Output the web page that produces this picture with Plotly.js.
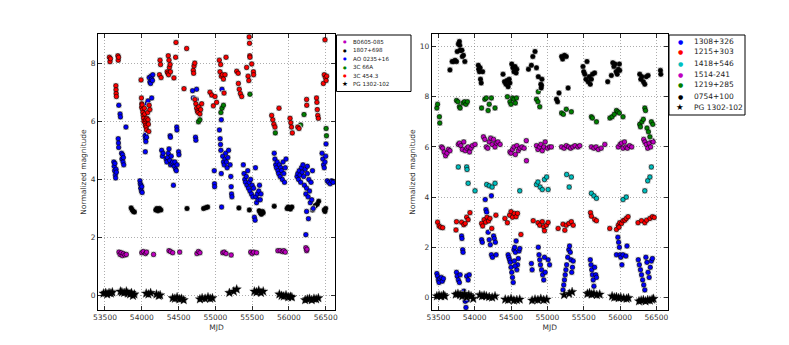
<!DOCTYPE html>
<html>
<head>
<meta charset="utf-8">
<script src="https://cdn.plot.ly/plotly-3.0.1.min.js"></script>
<style>
  html, body { margin: 0; padding: 0; background: #fff; }
  #chart { width: 789px; height: 345px; }
</style>
</head>
<body>
<div id="chart"></div>
<script>
// ---- data: [MJD, normalized magnitude] ----

// left panel
const b0605 = [[53690,1.5],[53705,1.42],[53720,1.48],[53735,1.38],[53750,1.45],[53770,1.4],[53790,1.42],
  [54000,1.48],[54020,1.52],[54050,1.45],[54065,1.5],[54160,1.42],
  [54370,1.55],[54390,1.52],[54420,1.48],[54515,1.5],[54750,1.45],[54770,1.52],[54790,1.48],
  [55100,1.48],[55120,1.5],[55145,1.45],[55215,1.4],[55480,1.5],[55500,1.45],[55520,1.5],[55560,1.48],
  [55850,1.55],[55880,1.55],[55910,1.52],[55930,1.55],[55950,1.5],[56230,1.65],[56240,1.55],[56245,1.6]];

const s1807 = [[53855,3.02],[53870,2.95],[53885,2.9],[53900,2.88],
  [54190,2.95],[54205,3.0],[54220,2.92],[54240,3.0],[54260,2.95],[54615,3.0],
  [54840,3.0],[54870,3.03],[54895,3.05],[55320,3.02],[55462,2.95],
  [55595,2.92],[55610,2.85],[55625,2.8],[55640,2.9],[55650,2.85],[55800,3.08],
  [55975,3.0],[55990,3.05],[56005,3.0],[56020,2.98],[56040,3.05],
  [56320,2.95],[56340,3.05],[56360,3.1],[56385,3.15],[56405,3.25],[56480,2.95],[56490,2.9],[56500,3.0]];

const ao0235 = [[53620,4.6],[53625,4.45],[53630,4.3],[53635,4.55],[53640,4.15],[53645,4.05],[53650,4.35],[53655,4.25],
  [53680,5.4],[53683,5.25],[53686,5.1],[53688,6.55],[53705,6.25],[53710,6.15],
  [53725,4.9],[53730,4.7],[53738,4.85],[53745,4.6],[53750,4.75],[53755,4.5],[53785,5.8],
  [53975,3.95],[53980,3.85],[53985,3.7],[53990,3.8],[53995,3.6],[54000,3.75],[54005,3.55],
  [54045,5.5],[54048,4.95],[54050,5.4],[54055,5.3],[54060,5.6],[54065,5.45],
  [54070,6.6],[54075,6.45],[54085,6.7],[54095,6.5],[54135,6.8],
  [54100,7.5],[54110,7.35],[54120,7.3],[54125,7.55],[54135,7.45],[54145,7.4],[54150,7.6],
  [54270,5.0],[54280,4.8],[54290,4.9],
  [54330,4.7],[54340,4.6],[54350,4.75],[54360,4.9],[54370,5.05],[54380,4.65],[54390,4.5],[54400,4.8],
  [54410,4.55],[54420,4.6],[54430,3.8],[54440,4.45],[54450,4.6],[54460,4.35],[54470,4.3],[54480,4.5],
  [54385,5.5],[54390,5.45],[54475,5.8],[54478,5.7],[54500,4.95],[54505,4.85],
  [54690,7.05],[54700,6.8],[54730,5.45],[54735,5.35],[54740,6.75],[54745,7.1],
  [54985,4.3],[54988,3.85],[54990,3.75],
  [55055,5.7],[55065,5.4],[55070,5.2],[55075,5.0],[55080,4.2],[55081,6.05],[55085,3.05],[55090,7.1],
  [55100,4.8],[55110,4.6],[55120,4.5],[55130,4.7],[55140,4.9],[55150,4.6],[55160,4.4],[55170,4.75],[55180,5.0],
  [55200,4.5],[55210,4.1],[55215,3.75],[55220,3.5],[55225,3.4],
  [55380,4.5],[55390,4.2],[55400,4.0],[55410,3.9],[55420,4.1],[55430,3.8],[55440,4.3],[55450,3.7],
  [55460,3.9],[55470,3.6],[55480,4.0],[55490,3.5],[55500,3.8],[55510,3.4],[55520,3.7],[55530,2.7],
  [55540,2.6],[55550,3.4],[55560,3.2],[55570,3.5],[55580,3.3],[55590,3.6],[55600,3.8],[55610,3.3],[55620,3.5],[55545,4.4],
  [55800,4.9],[55810,4.7],[55820,4.5],[55830,4.4],[55840,4.6],[55850,4.3],[55860,4.2],[55870,4.5],
  [55880,4.1],[55890,4.4],[55900,4.3],[55910,4.0],[55920,4.6],[55930,4.2],[55940,3.9],[55950,4.4],[55960,4.7],
  [56110,4.1],[56120,4.2],[56130,4.0],[56140,4.3],[56150,4.15],[56160,3.9],[56170,4.4],[56180,4.25],
  [56190,4.5],[56200,4.1],[56210,3.8],[56220,4.35],[56230,3.5],[56240,3.7],[56250,4.2],[56260,3.4],
  [56270,4.0],[56280,3.6],[56290,3.2],[56300,3.9],[56310,3.3],[56320,4.3],[56330,3.0],[56230,2.1],
  [56265,2.65],[56240,2.9],[56250,4.45],
  [56450,4.9],[56460,4.7],[56470,4.5],[56480,4.4],[56490,4.6],[56500,4.8],[56504,5.22],
  [56520,3.95],[56540,3.9],[56560,3.85],[56580,3.95],[56600,3.9]];

const s3c66a = [[54770,5.98],[54790,6.05],[55075,6.3],[55090,6.45],[55110,6.55],[55470,6.93],
  [55815,5.6],[56160,5.87],[56205,6.23],[56505,5.75],[56510,5.5]];

const s3c454 = [[53560,8.2],[53568,8.05],[53575,8.15],[53675,8.25],[53680,8.1],[53685,8.2],
  [53648,7.22],[53650,7.08],[53652,6.95],[53655,6.85],[53990,7.42],
  [53995,6.8],[54000,6.6],[53998,6.48],[54005,6.56],[54010,6.4],[54015,6.3],[54020,6.2],[54025,6.1],
  [54030,6.0],[54035,6.45],[54040,6.25],[54045,5.95],[54050,5.85],[54055,6.05],[54060,5.8],[54065,5.7],
  [54070,6.1],[54080,6.3],[54085,6.05],[54090,5.9],[54100,6.55],[54110,6.4],[54095,5.65],
  [54248,8.1],[54255,7.95],[54240,7.6],[54262,7.5],
  [54345,7.7],[54355,7.65],[54360,8.25],[54365,7.6],[54370,8.1],[54375,7.85],[54385,7.95],[54390,7.7],
  [54437,7.49],[54460,8.2],[54465,8.71],[54574,7.12],[54610,8.5],
  [54700,7.75],[54705,7.65],[54710,7.9],[54720,8.0],
  [54722,6.75],[54735,6.6],[54745,6.45],[54755,6.35],[54765,6.3],[54775,6.5],[54790,6.25],[54800,6.4],[54814,6.6],
  [54927,7.0],[54950,6.9],[54973,6.53],[54995,6.85],[55017,6.65],
  [55054,8.1],[55072,7.95],[55063,7.7],[55080,7.55],[55095,7.6],[55110,7.45],[55131,7.6],[55118,6.97],[55145,8.2],
  [55290,7.72],[55310,7.65],[55313,7.3],[55325,7.1],[55340,6.95],[55358,6.85],
  [55425,7.85],[55445,7.55],[55455,7.4],[55460,8.9],[55464,8.68],[55468,8.25],[55470,8.2],[55494,7.97],[55517,7.7],[55520,7.6],
  [55765,6.2],[55780,6.05],[55795,5.9],[55810,5.8],[55865,6.45],
  [56015,6.1],[56025,5.95],[56035,5.8],[56046,5.6],[56120,5.8],[56137,5.75],
  [56240,6.75],[56242,6.55],
  [56375,6.8],[56380,6.65],[56385,6.4],[56392,6.2],[56400,6.1],
  [56490,8.8],[56468,7.3],[56480,7.6],[56495,7.5],[56505,7.4],[56513,7.55]];

const pg1302L = [[53480,0.08],[53510,0.1],[53530,0.05],[53555,0.1],[53580,0.08],[53600,0.12],
  [53710,0.15],[53730,0.12],[53760,0.1],[53790,0.15],[53810,0.08],[53840,0.05],[53860,0.1],[53880,0.0],[53900,0.05],
  [54060,0.08],[54090,0.05],[54120,0.1],[54200,0.05],[54230,0.0],[54250,0.02],
  [54420,-0.08],[54450,-0.1],[54480,-0.05],[54510,-0.12],[54540,-0.1],[54570,-0.15],
  [54790,-0.12],[54820,-0.08],[54860,-0.1],[54900,-0.05],[54930,-0.1],[54960,-0.08],
  [55190,0.1],[55250,0.15],[55290,0.22],
  [55530,0.15],[55560,0.12],[55590,0.18],[55620,0.1],[55650,0.15],
  [55870,0.05],[55900,0.0],[55930,-0.02],[55960,0.02],[55990,-0.05],[56020,-0.03],[56040,-0.05],
  [56220,-0.15],[56250,-0.12],[56280,-0.1],[56310,-0.15],[56340,-0.1],[56370,-0.12],[56400,-0.08]];

// right panel
const s1308 = [[53480,0.95],[53490,0.85],[53500,0.7],[53510,0.6],[53520,0.75],[53540,0.8],[53555,0.65],[53570,0.75],
  [53750,1.0],[53760,0.85],[53775,0.7],[53790,0.6],[53800,0.9],
  [53820,2.45],[53825,2.35],[53835,1.9],[53840,1.8],
  [53850,0.25],[53860,0.0],[53870,-0.15],[53880,-0.4],[53895,-0.1],[53905,0.1],[53890,0.85],[53910,0.7],[53925,0.9],
  [54095,2.3],[54105,2.2],[54145,3.9],[54155,3.5],[54165,3.4],[54230,4.05],
  [54185,2.6],[54200,2.3],[54215,2.1],[54230,1.7],[54245,1.6],[54260,2.45],[54270,2.35],[54285,2.2],[54295,1.7],
  [54460,1.7],[54470,1.6],[54480,1.5],[54490,1.4],[54500,1.2],[54510,1.0],[54520,0.8],[54530,0.6],
  [54540,1.9],[54550,2.0],[54560,1.8],[54570,2.25],[54580,1.1],[54590,1.3],[54600,1.55],[54610,1.85],
  [54620,1.95],[54545,1.45],[54555,1.25],
  [54780,1.35],[54790,1.1],
  [54875,2.0],[54885,1.7],[54895,1.5],[54905,1.3],[54920,1.1],[54935,0.9],[54950,0.7],[54960,1.6],[54970,1.0],
  [55010,1.5],[55030,1.3],
  [55215,0.3],[55225,0.5],[55235,0.7],[55245,0.9],[55255,1.1],[55265,1.3],[55280,1.6],[55295,1.9],
  [55305,2.05],[55315,1.8],[55325,1.5],[55335,1.0],[55345,1.2],[55355,1.45],
  [55590,1.5],[55600,1.3],[55610,1.1],[55620,0.9],[55630,0.7],[55640,0.45],[55650,1.2],[55665,0.9],[55675,0.8],
  [55950,1.7],[55970,2.4],[55980,2.2],[55990,2.0],[56000,1.7],[56010,1.6],[56025,1.3],[56040,1.7],[56095,2.05],[56080,1.65],
  [56250,1.5],[56265,1.3],[56280,1.1],[56295,0.9],[56310,0.7],[56325,0.5],[56340,0.3],[56355,1.6],
  [56370,1.4],[56385,1.0],[56400,0.8],[56415,1.2],[56430,1.45],[56445,1.55]];

const s1215 = [[53490,3.0],[53510,2.85],[53530,2.8],[53560,2.78],
  [53743,2.69],[53750,3.02],[53820,3.0],[53850,2.9],[53870,2.95],[53890,3.2],[53910,3.1],[53935,3.38],
  [54095,2.95],[54110,2.85],[54130,3.1],[54150,3.0],[54170,3.2],[54190,3.05],[54210,3.15],[54235,2.75],[54292,3.28],
  [54416,3.15],[54450,2.98],[54480,3.28],[54500,3.42],[54520,3.2],[54545,3.35],[54570,3.22],[54590,3.35],[54636,2.51],
  [54805,3.06],[54870,2.98],[54895,2.88],[54930,3.02],[54950,2.82],[54960,2.66],[54985,2.88],[55010,2.99],
  [55148,2.75],[55215,2.92],[55240,2.68],[55260,2.88],[55295,2.95],[55330,3.02],[55355,2.88],
  [55593,3.38],[55605,3.24],[55650,3.11],[55675,3.06],
  [55858,2.75],[55950,2.71],[55975,2.88],[55995,2.98],[56020,2.95],[56040,3.06],[56065,3.08],[56085,3.15],[56110,3.22],[55985,2.8],
  [56247,2.98],[56295,3.06],[56340,2.98],[56365,3.08],[56410,3.15],[56445,3.22],[56470,3.19]];

const s1418 = [[53775,5.2],[53890,5.2],[53895,5.1],[53910,4.55],[54005,4.25],
  [54165,4.5],[54200,4.45],[54240,4.4],[54280,4.55],[54620,4.25],
  [54850,4.5],[54870,4.6],[54900,4.4],[54930,4.3],[54960,4.7],[54990,4.8],[55010,4.3],
  [55265,4.9],[55300,4.4],[55330,4.8],[55605,4.15],[55640,4.05],[55675,3.95],
  [56040,3.9],[56085,4.0],[56340,4.25],[56380,4.65],[56410,4.8],[56430,5.2]];

const s1514 = [[53545,6.0],[53560,5.95],[53580,5.8],[53600,5.65],[53620,5.75],[53640,5.9],[53660,5.85],
  [53775,6.1],[53790,6.15],[53810,6.05],[53830,5.9],[53850,6.2],[53870,5.85],[53890,5.95],[53910,6.0],
  [53930,5.8],[53950,5.95],[53970,6.05],[54005,6.1],
  [54120,6.4],[54140,6.3],[54160,6.0],[54180,5.95],[54200,6.2],[54220,6.35],[54240,6.1],[54260,6.3],
  [54280,6.0],[54300,6.15],[54320,6.2],[54350,6.1],
  [54485,5.8],[54500,5.75],[54520,5.9],[54540,6.0],[54560,5.7],[54580,6.05],[54600,5.85],[54620,5.95],
  [54650,6.0],[54680,5.95],[54710,6.25],[54712,5.45],
  [54850,6.05],[54870,5.9],[54890,6.0],[54910,6.1],[54930,5.85],[54950,6.0],[54970,6.2],[55000,5.95],[55030,6.0],[55055,6.0],
  [55195,6.0],[55230,5.95],[55260,6.05],[55290,6.0],[55320,5.95],[55350,6.0],[55380,6.05],[55420,6.0],[55445,6.05],
  [55605,6.0],[55640,5.95],[55670,6.0],[55700,5.9],[55740,5.95],[55790,6.1],
  [55975,6.0],[56000,6.1],[56020,6.15],[56040,5.95],[56060,6.2],[56080,6.0],[56100,5.95],[56130,6.05],[56160,6.0],
  [56325,6.3],[56340,6.2],[56360,6.1],[56380,5.95],[56400,6.15],[56420,6.0],[56440,6.25],[56455,6.2]];

const s1219 = [[53480,7.55],[53490,7.7],[53515,7.2],[53520,6.95],
  [53750,7.85],[53770,7.8],[53790,7.6],[53800,7.55],[53840,7.75],[53860,7.8],[53880,7.7],[53900,7.8],
  [54095,7.55],[54140,7.9],[54160,7.95],[54185,7.45],[54200,7.7],[54230,7.95],[54280,7.55],
  [54450,8.0],[54485,7.8],[54500,7.7],[54520,7.95],[54540,7.9],[54560,7.75],[54575,7.95],
  [54850,7.9],[54870,7.8],[54875,8.2],[54895,7.6],
  [55195,7.35],[55220,7.3],[55260,7.5],[55330,7.4],
  [55605,7.2],[55620,7.15],[55675,7.0],
  [55860,7.15],[55890,7.2],[55920,7.3],[55950,7.45],[55970,7.4],[55990,7.35],[56040,7.2],
  [56270,6.9],[56280,6.8],[56300,7.0],[56320,7.1],[56340,7.55],[56350,7.45],[56370,6.75],
  [56390,6.6],[56410,6.4],[56430,7.0],[56450,6.9]];

const s0754 = [[53660,9.07],[53690,9.4],[53710,9.4],[53730,9.45],[53750,9.4],
  [53760,9.8],[53775,10.1],[53790,10.2],[53795,10.05],[53800,9.85],[53810,9.85],[53825,9.85],[53830,9.6],[53845,9.65],[53865,9.4],
  [54050,9.25],[54055,9.1],[54065,9.0],[54075,9.15],[54080,8.7],[54090,8.55],[54110,9.0],
  [54390,8.9],[54410,8.6],[54430,8.5],[54445,8.65],[54460,8.4],[54475,8.7],[54485,8.55],[54510,9.3],
  [54525,9.15],[54540,9.0],[54555,9.2],[54570,8.95],[54580,9.1],
  [54740,9.1],[54780,9.25],[54800,9.6],[54830,9.8],[54850,9.15],[54875,8.8],[54910,8.5],[54915,8.35],[54920,8.45],[54925,8.7],
  [55125,7.9],[55140,7.8],[55160,8.15],[55195,9.6],[55210,9.5],[55235,9.65],[55260,9.6],[55285,8.35],
  [55490,9.2],[55500,9.0],[55515,8.9],[55530,8.7],[55545,9.4],[55560,8.6],[55575,8.8],[55590,8.5],[55605,8.7],[55620,8.9],[55650,8.95],
  [55830,8.6],[55880,8.85],[55900,9.35],[55915,9.2],[55930,9.3],[55945,9.0],[55960,8.9],[55975,9.1],[55990,9.3],[55995,9.05],
  [56270,8.9],[56285,8.7],[56300,8.8],[56320,8.6],[56340,8.5],[56360,8.8],[56385,8.85],
  [56555,9.05],[56560,8.9]];

const pg1302R = [[53480,0.05],[53510,0.08],[53540,0.05],[53570,0.1],[53590,0.05],
  [53740,0.12],[53770,0.15],[53800,0.1],[53830,0.05],[53860,0.15],[53890,0.0],[53920,0.1],[53950,0.05],[53980,-0.05],
  [54070,0.1],[54100,0.05],[54130,0.08],[54160,0.05],[54200,0.02],[54240,0.0],[54280,0.05],
  [54420,-0.08],[54460,-0.1],[54500,-0.05],[54540,-0.12],[54580,-0.1],[54620,-0.08],
  [54790,-0.12],[54830,-0.08],[54870,-0.1],[54910,-0.05],[54950,-0.1],[54990,-0.08],
  [55230,0.1],[55300,0.15],[55340,0.22],
  [55550,0.15],[55580,0.18],[55610,0.12],[55640,0.15],[55680,0.1],[55720,0.12],
  [55890,0.05],[55920,0.0],[55950,0.02],[55980,-0.02],[56010,0.0],[56050,-0.03],[56090,-0.05],[56115,-0.02],
  [56260,-0.15],[56290,-0.12],[56320,-0.1],[56350,-0.15],[56380,-0.1],[56410,-0.12],[56440,-0.08],[56460,-0.05]];

const mjdTicks = [53500, 54000, 54500, 55000, 55500, 56000, 56500];
const leftMagTicks = [0, 2, 4, 6, 8];
const rightMagTicks = [0, 2, 4, 6, 8, 10];

const leftSeries = [
  {name: 'B0605-085', pts: b0605, color: '#bf00bf'},
  {name: '1807+698', pts: s1807, color: '#000000'},
  {name: 'AO 0235+16', pts: ao0235, color: '#0000ff'},
  {name: '3C 66A', pts: s3c66a, color: '#008000'},
  {name: '3C 454.3', pts: s3c454, color: '#ff0000'},
  {name: 'PG 1302-102', pts: pg1302L, color: '#000000', star: true},
];
const rightSeries = [
  {name: '1308+326', pts: s1308, color: '#0000ff'},
  {name: '1215+303', pts: s1215, color: '#ff0000'},
  {name: '1418+546', pts: s1418, color: '#00bfbf'},
  {name: '1514-241', pts: s1514, color: '#bf00bf'},
  {name: '1219+285', pts: s1219, color: '#008000'},
  {name: '0754+100', pts: s0754, color: '#000000'},
  {name: 'PG 1302-102', pts: pg1302R, color: '#000000', star: true},
];

// ---- page geometry (pixels of the 789x345 picture) ----
const W = 789, H = 345;
const mL = 98, mR = 121, mT = 34, mB = 35;
const plotW = W - mL - mR, plotH = H - mT - mB;
const px = x => (x - mL) / plotW;
const py = y => 1 - (y - mT) / plotH;

function makeTrace(s, xa, ya, halo) {
  return {
    type: 'scatter', mode: 'markers', name: s.name, showlegend: false,
    xaxis: xa, yaxis: ya,
    x: s.pts.map(p => p[0]),
    y: s.pts.map(p => p[1]),
    marker: {
      color: s.color, symbol: s.star ? 'star' : 'circle', size: s.star ? 7 : 4.5,
      line: {color: 'black', width: s.star ? 0.3 : 0.6},
    },
    error_y: {type: 'constant', value: halo, color: '#cdcdcd',
      thickness: s.star ? 6 : 5.5, width: 0},
  };
}

const data = [
  ...leftSeries.map(s => makeTrace(s, 'x', 'y', 0.1)),
  ...rightSeries.map(s => makeTrace(s, 'x2', 'y2', 0.12)),
];

// hand-drawn legends (boxes + text), to keep the compact spacing of the original
const shapes = [];
const annotations = [];
function legendBox(series, box, rowY0, rowStep, symX, textX, fsize) {
  shapes.push({type: 'rect', xref: 'paper', yref: 'paper',
    x0: px(box[0]), x1: px(box[1]), y0: py(box[3]), y1: py(box[2]),
    line: {color: 'black', width: 1}, fillcolor: 'white', layer: 'above'});
  series.forEach((s, i) => {
    const y = py(rowY0 + i * rowStep);
    annotations.push({xref: 'paper', yref: 'paper', x: px(symX), y: y,
      xanchor: 'center', yanchor: 'middle', showarrow: false,
      text: s.star ? '★' : '●', font: {color: s.color, size: s.star ? fsize + 1 : fsize - 1.5}});
    annotations.push({xref: 'paper', yref: 'paper', x: px(textX), y: y,
      xanchor: 'left', yanchor: 'middle', showarrow: false,
      text: s.name, font: {color: '#222', size: fsize}});
  });
}
legendBox(leftSeries, [336.5, 411, 35, 91.5], 41.8, 8.5, 345, 351, 5.6);
legendBox(rightSeries, [669, 745, 35, 115], 41, 11, 680, 692, 7.5);

const axisStyle = {
  showline: true, mirror: 'ticks', linecolor: 'black', linewidth: 1,
  ticks: 'inside', ticklen: 4, tickcolor: 'black', tickwidth: 0.8,
  showgrid: true, gridcolor: '#777', griddash: '1px,2px', gridwidth: 0.6,
  zeroline: false, automargin: false, tickformat: 'd',
  tickfont: {size: 7.5, color: '#333'},
};

const layout = {
  width: W, height: H,
  margin: {l: mL, r: mR, t: mT, b: mB},
  paper_bgcolor: 'white', plot_bgcolor: 'white',
  font: {family: 'DejaVu Sans', size: 7.5, color: '#333'},
  showlegend: false,
  xaxis: {...axisStyle, domain: [0, px(335)], range: [53405, 56626], tickvals: mjdTicks,
    title: {text: 'MJD', standoff: 3, font: {size: 7.5}}},
  yaxis: {...axisStyle, anchor: 'x', range: [-0.49, 9.0], tickvals: leftMagTicks,
    title: {text: 'Normalized magnitude', standoff: 3, font: {size: 7.5}}},
  xaxis2: {...axisStyle, anchor: 'y2', domain: [px(431.7), 1], range: [53409, 56659], tickvals: mjdTicks,
    title: {text: 'MJD', standoff: 3, font: {size: 7.5}}},
  yaxis2: {...axisStyle, anchor: 'x2', range: [-0.5, 10.5], tickvals: rightMagTicks,
    title: {text: 'Normalized magnitude', standoff: 3, font: {size: 7.5}}},
  shapes: shapes,
  annotations: annotations,
};

Plotly.newPlot('chart', data, layout, {displayModeBar: false, staticPlot: true});
</script>
</body>
</html>
